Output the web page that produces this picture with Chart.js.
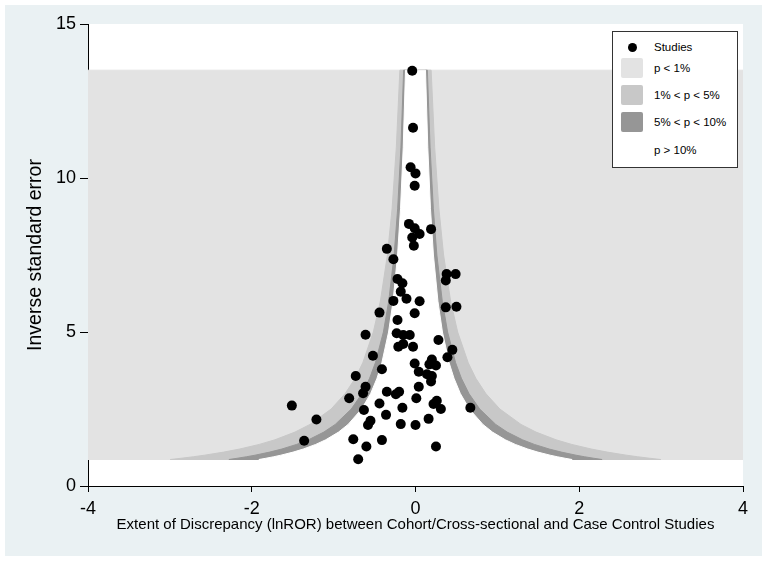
<!DOCTYPE html>
<html>
<head>
<meta charset="utf-8">
<script src="https://cdn.jsdelivr.net/npm/chart.js@4.4.1/dist/chart.umd.min.js"></script>
<style>
  body { margin: 0; background: #ffffff; }
  #frame { position: absolute; left: 5px; top: 5px; width: 757px; height: 551px; background: #eaf1f3; }
  #wrap { position: absolute; left: 0; top: 0; width: 767px; height: 561px; }
  #legend { position: absolute; left: 612px; top: 31px; width: 124px; height: 135px; background: #fff;
            border: 1px solid #333; font-family: "Liberation Sans", Arial, sans-serif; font-size: 11.5px; color: #000; }
  .row { position: absolute; left: 0; height: 20px; line-height: 20px; width: 124px; }
  .sw { position: absolute; left: 8px; top: 0; width: 22px; height: 20px; border-radius: 2px; }
  .dot { position: absolute; left: 15px; top: 6px; width: 9px; height: 9px; border-radius: 50%; background: #000; }
  .lab { position: absolute; left: 41px; top: 0; white-space: nowrap; }
</style>
</head>
<body>
<div id="frame"></div>
<div id="wrap"><canvas id="c" width="767" height="561"></canvas></div>
<div id="legend"></div>
<script>
// studies: effect (lnROR) and inverse standard error
let studyX = [-0.04, -0.03, -0.06, 0.00, -0.01, -0.08, -0.01, 0.05, -0.04, 0.19,
              -0.02, -0.35, -0.27, -0.22, -0.16, 0.38, 0.49, 0.37, -0.18, -0.11,
              -0.27, 0.05, -0.44, -0.01, 0.37, 0.50, -0.22, -0.61, -0.23, -0.15,
              -0.07, 0.28, -0.21, -0.15, -0.03, 0.45, -0.52, 0.39, -0.01, 0.20,
              0.17, 0.25, -0.41, 0.04, 0.14, 0.20, 0.19, -0.73, -0.61, -0.64,
              -0.81, -0.35, -0.24, -0.20, 0.04, 0.01, -0.44, 0.26, 0.22, 0.31,
              0.67, -0.16, -0.63, -0.36, -0.55, -0.58, -0.18, 0.00, 0.16, -1.51,
              -1.21, -1.36, -0.76, -0.41, -0.60, 0.25, -0.70]
let studyY = [13.48, 11.63, 10.35, 10.15, 9.75, 8.51, 8.37, 8.18, 8.07, 8.34,
              7.80, 7.70, 7.36, 6.72, 6.58, 6.88, 6.88, 6.67, 6.31, 6.08,
              6.01, 6.00, 5.63, 5.61, 5.80, 5.82, 5.39, 4.91, 4.96, 4.90,
              4.90, 4.74, 4.52, 4.61, 4.52, 4.42, 4.23, 4.18, 3.98, 4.11,
              3.95, 3.91, 3.79, 3.71, 3.63, 3.57, 3.39, 3.57, 3.22, 3.01,
              2.85, 3.06, 2.98, 3.06, 3.22, 2.85, 2.68, 2.77, 2.66, 2.50,
              2.54, 2.54, 2.47, 2.31, 2.12, 1.98, 2.01, 1.98, 2.18, 2.61,
              2.16, 1.47, 1.52, 1.49, 1.28, 1.28, 0.87]

// contour band limits
let bandLow = 0.86
let bandHigh = 13.5
let contourY = [0.86, 0.9, 0.95, 1.0, 1.1, 1.2, 1.35, 1.5, 1.75, 2, 2.5, 3, 3.5, 4, 5, 6, 7.5, 9, 11, 13.5]
let half1 = [2.995, 2.862, 2.712, 2.576, 2.342, 2.147, 1.908, 1.717, 1.472, 1.288, 1.030, 0.859, 0.736, 0.644, 0.515, 0.429, 0.343, 0.286, 0.234, 0.191]
let half5 = [2.279, 2.178, 2.063, 1.960, 1.782, 1.633, 1.452, 1.307, 1.120, 0.980, 0.784, 0.653, 0.560, 0.490, 0.392, 0.327, 0.261, 0.218, 0.178, 0.145]
let half10 = [1.913, 1.828, 1.732, 1.645, 1.495, 1.371, 1.219, 1.097, 0.940, 0.823, 0.658, 0.548, 0.470, 0.411, 0.329, 0.274, 0.219, 0.183, 0.150, 0.122]

let xTicks = [-4, -2, 0, 2, 4]
let yTicks = [0, 5, 10, 15]

let legendNames = ["Studies", "p < 1%", "1% < p < 5%", "5% < p < 10%", "p > 10%"]
let legendColors = ["#000000", "#e3e3e3", "#c8c8c8", "#969696", "#ffffff"]

// closed outline of the area where |effect| < half-width
function funnel(half) {
    let pts = []
    for (let i = 0; i < contourY.length; i++) pts.push({x: -half[i], y: contourY[i]})
    for (let i = contourY.length - 1; i >= 0; i--) pts.push({x: half[i], y: contourY[i]})
    pts.push(pts[0])
    return pts
}

let studies = []
for (let i = 0; i < studyX.length; i++) studies.push({x: studyX[i], y: studyY[i]})

// border in the same colour hides the anti-aliased seams between bands
let region = (data, color, order) => ({
    data: data, order: order, fill: 'shape', backgroundColor: color,
    borderColor: color, borderWidth: 1, pointRadius: 0, showLine: true
})

let whiteArea = {
    id: 'whiteArea',
    beforeDraw(chart) {
        let a = chart.chartArea
        chart.ctx.save()
        chart.ctx.fillStyle = '#ffffff'
        chart.ctx.fillRect(a.left, a.top, a.right - a.left, a.bottom - a.top)
        chart.ctx.restore()
    }
}

let font = "'Liberation Sans', Arial, sans-serif"
let band = [{x: -4, y: bandLow}, {x: -4, y: bandHigh}, {x: 4, y: bandHigh}, {x: 4, y: bandLow}, {x: -4, y: bandLow}]

new Chart(document.getElementById('c'), {
    type: 'line',
    data: {
        datasets: [
            {data: studies, order: 0, showLine: false, pointRadius: 5, pointBackgroundColor: '#000',
             pointBorderWidth: 0, pointBorderColor: '#000'},
            region(funnel(half10), legendColors[4], 1),
            region(funnel(half5), legendColors[3], 2),
            region(funnel(half1), legendColors[2], 3),
            region(band, legendColors[1], 4)
        ]
    },
    options: {
        responsive: false,
        animation: false,
        events: [],
        layout: {padding: {top: 24, right: 24, left: 0, bottom: 0}},
        plugins: {legend: {display: false}, tooltip: {enabled: false}},
        scales: {
            x: {
                type: 'linear', min: -4, max: 4,
                afterBuildTicks: s => { s.ticks = xTicks.map(v => ({value: v})) },
                afterFit: s => { s.height = 75 },
                ticks: {color: '#000', padding: 6, font: {family: font, size: 18}},
                grid: {drawOnChartArea: false, drawTicks: true, tickLength: 6, color: '#000'},
                border: {display: true, color: '#000', width: 1},
                title: {display: true, text: 'Extent of Discrepancy (lnROR) between Cohort/Cross-sectional and Case Control Studies',
                        color: '#000', font: {family: font, size: 15}, padding: {top: 0, bottom: 27}}
            },
            y: {
                min: 0, max: 15,
                afterBuildTicks: s => { s.ticks = yTicks.map(v => ({value: v})) },
                afterFit: s => { s.width = 88 },
                ticks: {color: '#000', padding: 4, font: {family: font, size: 18}},
                grid: {drawOnChartArea: false, drawTicks: true, tickLength: 8, color: '#000'},
                border: {display: true, color: '#000', width: 1},
                title: {display: true, text: 'Inverse standard error', color: '#000',
                        font: {family: font, size: 19.5}, padding: {top: 24, bottom: 0}}
            }
        }
    },
    plugins: [whiteArea]
})

let legend = document.getElementById('legend')
let rowTops = [5, 26, 53, 80, 108]
for (let i = 0; i < legendNames.length; i++) {
    let row = document.createElement('div')
    row.className = 'row'
    row.style.top = rowTops[i] + 'px'
    let mark = document.createElement('div')
    if (i == 0) {
        mark.className = 'dot'
    } else {
        mark.className = 'sw'
        mark.style.background = legendColors[i]
    }
    let lab = document.createElement('div')
    lab.className = 'lab'
    lab.textContent = legendNames[i]
    row.appendChild(mark)
    row.appendChild(lab)
    legend.appendChild(row)
}
</script>
</body>
</html>
